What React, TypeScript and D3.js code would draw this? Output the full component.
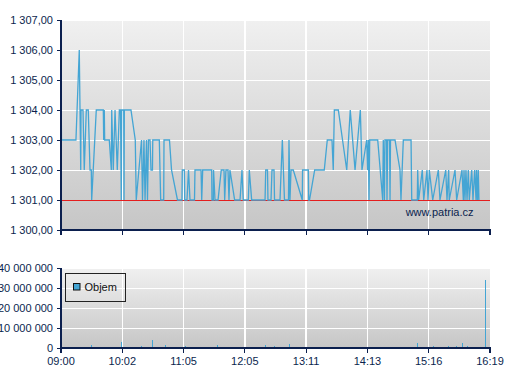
import React from "react";
import * as d3 from "d3";

// ---- data ----
// minutes since 09:00
const priceTimes = [
  0, 0.5, 15.3, 18.7, 20.2, 20.5, 22.5, 23.8, 25.9, 27.9, 29.7, 31.0, 31.4, 36.1, 43.3, 43.7, 44.3, 44.7, 49.4,
  51.5, 51.9, 53.5, 55.3, 57.6, 59.7, 60.9, 61.7, 62.1, 64.2, 64.5, 64.8, 71.6, 76.0, 77.0, 82.4, 83.4, 84.9,
  86.0, 87.5, 88.5, 89.5, 91.1, 92.1, 93.6, 93.9, 100.6, 102.0, 105.1, 105.4, 111.0, 113.1, 119.2, 123.8, 124.1,
  126.2, 126.6, 128.9, 130.5, 132.0, 136.6, 137.1, 143.3, 144.0, 145.0, 154.2, 154.5, 155.9, 156.1, 157.6, 160.7,
  164.0, 166.8, 167.5, 168.8, 170.9, 171.9, 172.9, 177.7, 183.2, 185.2, 186.5, 191.7, 192.7, 195.1, 208.8, 209.5,
  211.3, 211.8, 214.9, 215.9, 218.0, 218.5, 224.1, 226.5, 228.7, 232.8, 233.3, 234.3, 235.4, 236.9, 237.7, 246.9,
  247.2, 253.1, 253.5, 254.3, 259.6, 269.4, 272.5, 277.3, 278.6, 279.7, 283.8, 292.4, 296.0, 300.9, 306.3, 308.0,
  312.8, 313.8, 314.5, 315.2, 315.9, 324.1, 329.2, 329.8, 331.0, 331.5, 333.1, 333.6, 334.3, 336.2, 336.7, 337.2,
  341.8, 346.9, 347.9, 350.3, 358.2, 358.9, 364.6, 365.0, 366.0, 369.7, 371.2, 374.5, 375.6, 376.9, 380.4, 386.1,
  387.8, 393.7, 395.0, 396.7, 397.3, 403.2, 404.9, 410.3, 411.7, 412.4, 413.4, 414.4, 415.5, 416.8, 417.8, 420.3,
  421.6, 423.3, 424.7, 425.2, 426.2, 427.0, 427.7,
];
const priceValues = [
  1305, 1303, 1303, 1306, 1302, 1304, 1304, 1302, 1304, 1304, 1302, 1302, 1301, 1304, 1304, 1303, 1304, 1303, 1303,
  1302, 1304, 1302, 1304, 1302, 1304, 1304, 1301, 1304, 1304, 1301, 1304, 1304, 1303, 1301, 1303, 1301, 1303,
  1301, 1303, 1301, 1303, 1303, 1302, 1302, 1303, 1303, 1301, 1301, 1303, 1303, 1302, 1301, 1301, 1302,
  1302, 1301, 1301, 1302, 1301, 1301, 1302, 1302, 1301, 1302, 1302, 1301, 1301, 1302, 1301, 1301,
  1302, 1302, 1301, 1302, 1302, 1301, 1302, 1301, 1301, 1302, 1301, 1301, 1302, 1301, 1301, 1302,
  1302, 1301, 1301, 1302, 1302, 1301, 1301, 1303, 1301, 1301, 1303, 1301, 1302, 1302, 1302, 1301,
  1302, 1302, 1301, 1301, 1302, 1302, 1303, 1303, 1302, 1304, 1304, 1302, 1304, 1302, 1304, 1302,
  1303, 1302, 1303, 1301, 1303, 1303, 1301, 1303, 1301, 1303, 1303, 1301, 1303, 1303, 1301, 1303,
  1303, 1302, 1301, 1303, 1303, 1301, 1301, 1302, 1301, 1302, 1301, 1302, 1301, 1302, 1301, 1302,
  1301, 1302, 1301, 1302, 1301, 1302, 1301, 1302, 1301, 1302, 1301, 1302, 1301, 1302, 1301, 1302,
  1301, 1302, 1301, 1302, 1301, 1302, 1301,
];
const previousClose = 1301;

const volumeTimes = [
  27.1, 31.2, 61.6, 64.8, 82.2, 93.4, 102.6, 106.7, 120.9, 127.2, 160.0, 168.1, 209.5, 216.2, 218.7, 233.6, 239.8,
  260.2, 291.9, 316.5, 328.8, 333.9, 364.6, 373.8, 381.4, 385.1, 393.3, 396.4, 399.8, 404.5, 410.7, 412.4, 413.7,
  415.8, 420.6, 424.0, 428.1, 434.6, 438.3,
];
const volumeValues = [
  0.7e6, 1.7e6, 3.2e6, 0.5e6, 1.2e6, 3.8e6, 0.7e6, 1.7e6, 0.7e6, 1.2e6, 1.7e6, 0.6e6, 1.7e6, 0.6e6, 1.2e6, 2.2e6, 0.5e6,
  0.5e6, 0.5e6, 0.5e6, 0.5e6, 0.5e6, 2.7e6, 0.5e6, 1.2e6, 0.7e6, 0.5e6, 1.2e6, 0.7e6, 1.2e6, 2.7e6, 0.5e6, 0.5e6,
  1.2e6, 0.7e6, 0.7e6, 0.7e6, 34.2e6, 0.5e6,
];

const timeTickLabels = ["09:00", "10:02", "11:05", "12:05", "13:11", "14:13", "15:16", "16:19"];
const priceTicks = [1300, 1301, 1302, 1303, 1304, 1305, 1306, 1307];
const volumeTicks = [0, 10e6, 20e6, 30e6, 40e6];
const sessionMinutes = 439;

// ---- styles ----
const NAVY = "#0b1f4e";
const BLUE = "#44a5d4";
const FONT = "'Liberation Sans', Arial, sans-serif";

const locale = d3.formatLocale({ decimal: ",", thousands: " ", grouping: [3], currency: ["", ""] });
const fmtPrice = locale.format(",.2f");
const fmtVol = locale.format(",.0f");

export default function App() {
  const left = 61;
  const right = 490;
  const x = d3.scaleLinear().domain([0, sessionMinutes]).range([left, right]);
  const tickPositions = timeTickLabels.map((_, i) => (sessionMinutes * i) / (timeTickLabels.length - 1));

  const yP = d3.scaleLinear().domain([1300, 1307]).range([230, 20]);
  const yV = d3.scaleLinear().domain([0, 40e6]).range([348, 268]);

  const priceData = priceTimes.map((t, i) => [t, priceValues[i]] as [number, number]);
  const line = d3
    .line<[number, number]>()
    .x((d) => x(d[0]))
    .y((d) => yP(d[1]));

  return (
    <svg
      width={507}
      height={380}
      style={{ position: "absolute", left: 0, top: 0, background: "#fff" }}
      fontFamily={FONT}
    >
      <defs>
        <linearGradient id="bg" x1="0" y1="0" x2="0" y2="1">
          <stop offset="0%" stopColor="#f0f0f0" />
          <stop offset="100%" stopColor="#c6c6c6" />
        </linearGradient>
      </defs>

      {/* ---------- price panel ---------- */}
      <rect x={left} y={yP(1307)} width={right - left} height={yP(1300) - yP(1307)} fill="url(#bg)" />
      <g shapeRendering="crispEdges">
        {priceTicks.slice(1).map((v) => (
          <line key={"hg" + v} x1={left} x2={right} y1={yP(v)} y2={yP(v)} stroke="#fff" strokeWidth={1} />
        ))}
        {tickPositions.slice(1, -1).map((t) => (
          <line key={"vg" + t} x1={x(t)} x2={x(t)} y1={yP(1307)} y2={yP(1300)} stroke="#fff" strokeWidth={1.5} />
        ))}
        <line x1={left} x2={right} y1={yP(previousClose)} y2={yP(previousClose)} stroke="#e41e1e" strokeWidth={1} />
      </g>
      <path d={line(priceData) || ""} fill="none" stroke={BLUE} strokeWidth={1.3} strokeLinejoin="miter" />
      <text x={473.5} y={216} textAnchor="end" fontSize={11} fill={NAVY}>
        www.patria.cz
      </text>
      {/* axes */}
      <g shapeRendering="crispEdges">
        <line x1={left} x2={left} y1={yP(1307)} y2={yP(1300)} stroke={NAVY} strokeWidth={1.5} />
        <line x1={left} x2={right + 0.5} y1={yP(1300)} y2={yP(1300)} stroke={NAVY} strokeWidth={1.5} />
        {priceTicks.map((v) => (
          <line key={"ptl" + v} x1={left - 4} x2={left} y1={yP(v)} y2={yP(v)} stroke={NAVY} strokeWidth={1} />
        ))}
        {tickPositions.map((t) => (
          <line key={"px" + t} x1={x(t)} x2={x(t)} y1={yP(1300)} y2={yP(1300) + 5} stroke={NAVY} strokeWidth={1.2} />
        ))}
      </g>
      {priceTicks.map((v) => (
        <text key={"pt" + v} x={53} y={yP(v) + 4.3} textAnchor="end" fontSize={11} fill={NAVY}>
          {fmtPrice(v)}
        </text>
      ))}

      {/* ---------- volume panel ---------- */}
      <rect x={left} y={yV(40e6)} width={right - left} height={yV(0) - yV(40e6)} fill="url(#bg)" />
      <g shapeRendering="crispEdges">
        {volumeTicks.slice(1).map((v) => (
          <line key={"vh" + v} x1={left} x2={right} y1={yV(v)} y2={yV(v)} stroke="#fff" strokeWidth={1} />
        ))}
        {tickPositions.slice(1, -1).map((t) => (
          <line key={"vv" + t} x1={x(t)} x2={x(t)} y1={yV(40e6)} y2={yV(0)} stroke="#fff" strokeWidth={1.5} />
        ))}
        {volumeTimes.map((t, i) => (
          <rect
            key={"b" + i}
            x={x(t) - 0.5}
            width={1}
            y={yV(volumeValues[i])}
            height={yV(0) - yV(volumeValues[i])}
            fill={BLUE}
          />
        ))}
      </g>
      {/* legend */}
      <rect x={65.5} y={273.5} width={60} height={28} fill="none" stroke="#222" strokeWidth={1} />
      <rect x={73.5} y={283.5} width={6.5} height={6.5} fill={BLUE} stroke="#111" strokeWidth={1} />
      <text x={84.5} y={291.3} fontSize={11} fill="#111">
        Objem
      </text>
      {/* axes */}
      <g shapeRendering="crispEdges">
        <line x1={left} x2={left} y1={yV(40e6)} y2={yV(0)} stroke={NAVY} strokeWidth={1.5} />
        <line x1={left} x2={right + 0.5} y1={yV(0)} y2={yV(0)} stroke={NAVY} strokeWidth={1.5} />
        {volumeTicks.map((v) => (
          <line key={"vtl" + v} x1={left - 4} x2={left} y1={yV(v)} y2={yV(v)} stroke={NAVY} strokeWidth={1} />
        ))}
        {tickPositions.map((t) => (
          <line key={"vxl" + t} x1={x(t)} x2={x(t)} y1={yV(0)} y2={yV(0) + 5} stroke={NAVY} strokeWidth={1.2} />
        ))}
      </g>
      {volumeTicks.map((v) => (
        <text key={"vt" + v} x={53} y={yV(v) + 4.3} textAnchor="end" fontSize={11} fill={NAVY}>
          {fmtVol(v)}
        </text>
      ))}
      {tickPositions.map((t, i) => (
        <text key={"vx" + t} x={x(t)} y={364.5} textAnchor="middle" fontSize={11} fill={NAVY}>
          {timeTickLabels[i]}
        </text>
      ))}
    </svg>
  );
}
